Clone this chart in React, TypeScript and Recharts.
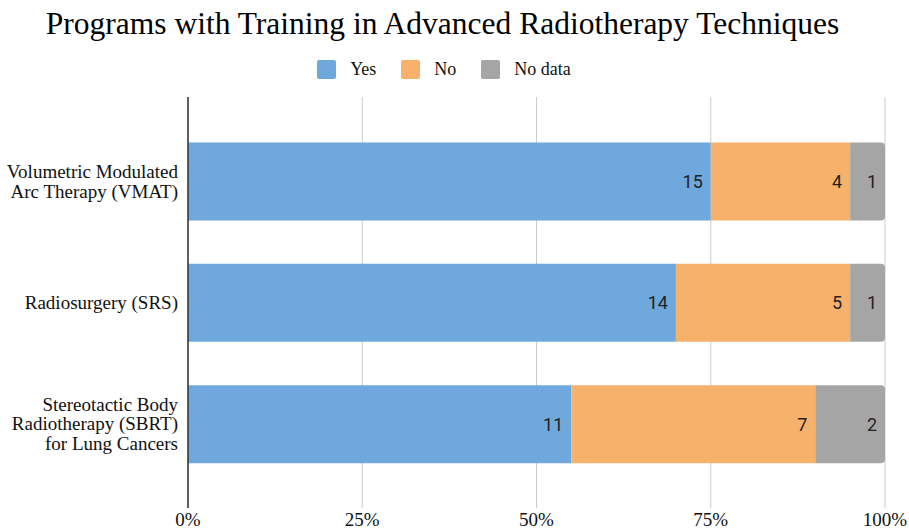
import React from "react";
import {
  BarChart,
  Bar,
  XAxis,
  YAxis,
  CartesianGrid,
  Legend,
  LabelList,
} from "recharts";

const categories = [
  "Volumetric Modulated\nArc Therapy (VMAT)",
  "Radiosurgery (SRS)",
  "Stereotactic Body\nRadiotherapy (SBRT)\nfor Lung Cancers",
];
const yesValues = [15, 14, 11];
const noValues = [4, 5, 7];
const noDataValues = [1, 1, 2];
const xTicks = [0, 0.25, 0.5, 0.75, 1];
const seriesNames = ["Yes", "No", "No data"];
const seriesColors = ["#6fa8dc", "#f6b26b", "#a5a5a5"];

const data = categories.map((name, i) => ({
  name,
  yes: yesValues[i],
  no: noValues[i],
  nodata: noDataValues[i],
}));

const SERIF = "'Liberation Serif', 'Times New Roman', serif";
const SANS = "Roboto, 'Noto Sans', sans-serif";

const CategoryTick = (props: any) => {
  const { x, y, payload } = props;
  const lines = String(payload.value).split("\n");
  const lh = 19.5;
  const start = y - ((lines.length - 1) * lh) / 2;
  return (
    <text
      x={x - 2}
      y={start}
      textAnchor="end"
      fontFamily={SERIF}
      fontSize={19}
      fill="#111"
    >
      {lines.map((l, i) => (
        <tspan key={i} x={x - 2} y={start + i * lh} dy="0.35em">
          {l}
        </tspan>
      ))}
    </text>
  );
};

const LegendContent = () => (
  <div
    style={{
      display: "flex",
      justifyContent: "center",
      alignItems: "center",
      fontFamily: SERIF,
      fontSize: 18,
      color: "#111",
      lineHeight: "19px",
    }}
  >
    {seriesNames.map((n, i) => (
      <div
        key={n}
        style={{
          display: "flex",
          alignItems: "center",
          marginRight: i < seriesNames.length - 1 ? 25 : 0,
        }}
      >
        <span
          style={{
            display: "inline-block",
            width: 19,
            height: 19,
            borderRadius: 2,
            background: seriesColors[i],
            marginRight: 14,
          }}
        />
        <span>{n}</span>
      </div>
    ))}
  </div>
);

const labelStyle = { fontFamily: SANS, fontSize: 18, fill: "#222" };

export default function App() {
  return (
    <div
      style={{
        position: "absolute",
        left: 0,
        top: 0,
        width: 909,
        height: 531,
        background: "#fff",
        overflow: "hidden",
      }}
    >
      <div
        style={{
          position: "absolute",
          left: 0,
          top: 8,
          width: 885,
          textAlign: "center",
          fontFamily: SERIF,
          fontSize: 31.5,
          lineHeight: "31px",
          color: "#000",
          zIndex: 2,
          whiteSpace: "nowrap",
        }}
      >
        Programs with Training in Advanced Radiotherapy Techniques
      </div>
      <BarChart
        width={909}
        height={531}
        data={data}
        layout="vertical"
        stackOffset="expand"
        barSize={78}
        margin={{ top: 78, right: 24, bottom: 0, left: 0 }}
      >
        <CartesianGrid horizontal={false} stroke="#cccccc" />
        <XAxis
          type="number"
          domain={[0, 1]}
          ticks={xTicks}
          tickFormatter={(v: number) => `${Math.round(v * 100)}%`}
          axisLine={false}
          tickLine={false}
          height={23}
          tickMargin={-1}
          tick={{ fontFamily: SERIF, fontSize: 19, fill: "#111" }}
          interval={0}
        />
        <YAxis
          type="category"
          dataKey="name"
          width={188}
          axisLine={{ stroke: "#333", strokeWidth: 1.5 }}
          tickLine={false}
          padding={{ top: 23.5, bottom: 23.5 }}
          tick={<CategoryTick />}
          interval={0}
        />
        <Legend
          verticalAlign="top"
          content={<LegendContent />}
          wrapperStyle={{ top: 60, left: 0, width: 888 }}
        />
        <Bar dataKey="yes" name="Yes" stackId="a" fill={seriesColors[0]} isAnimationActive={false}>
          <LabelList dataKey="yes" position="insideRight" offset={8} style={labelStyle} />
        </Bar>
        <Bar dataKey="no" name="No" stackId="a" fill={seriesColors[1]} isAnimationActive={false}>
          <LabelList dataKey="no" position="insideRight" offset={8} style={labelStyle} />
        </Bar>
        <Bar
          dataKey="nodata"
          name="No data"
          stackId="a"
          fill={seriesColors[2]}
          radius={[0, 4, 4, 0]}
          isAnimationActive={false}
        >
          <LabelList dataKey="nodata" position="insideRight" offset={8} style={labelStyle} />
        </Bar>
      </BarChart>
    </div>
  );
}
